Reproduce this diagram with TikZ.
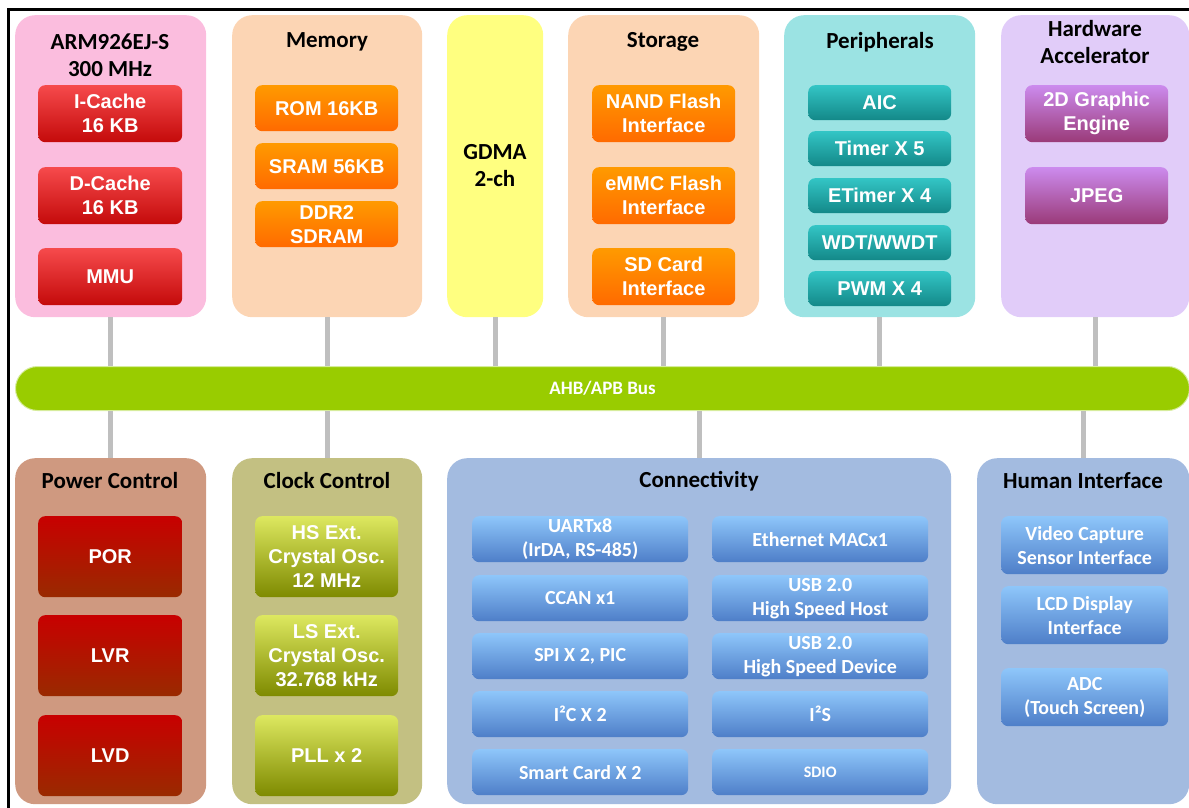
\documentclass[tikz,border=0pt]{standalone}
\usepackage{fontspec}
\setmainfont{Liberation Sans}
\newfontfamily\calfont{Carlito}
\usetikzlibrary{calc}

\definecolor{armpink}{HTML}{FBBDDE}
\definecolor{peach}{HTML}{FCD5B4}
\definecolor{gdmayel}{HTML}{FFFF80}
\definecolor{periteal}{HTML}{9BE3E3}
\definecolor{hwlav}{HTML}{E1CCF9}
\definecolor{busgreen}{HTML}{99CC00}
\definecolor{buslite}{HTML}{D6EC9C}
\definecolor{pwrbrown}{HTML}{CF9980}
\definecolor{clkolive}{HTML}{C3C082}
\definecolor{ifblue}{HTML}{A3BBE0}
\definecolor{linkgray}{HTML}{BFBFBF}
\definecolor{redtop}{HTML}{F64A4C}
\definecolor{redbot}{HTML}{C40A0A}
\definecolor{orgtop}{HTML}{FF9A00}
\definecolor{orgbot}{HTML}{FF6A00}
\definecolor{tealtop}{HTML}{33C5C5}
\definecolor{tealbot}{HTML}{138888}
\definecolor{purtop}{HTML}{CC8BEE}
\definecolor{purbot}{HTML}{9A3A78}
\definecolor{drtop}{HTML}{C80000}
\definecolor{drbot}{HTML}{992A00}
\definecolor{olvtop}{HTML}{DDE860}
\definecolor{olvbot}{HTML}{7E8A00}
\definecolor{bluetop}{HTML}{8EC6FA}
\definecolor{bluebot}{HTML}{4E7EC8}

\begin{document}
\begin{tikzpicture}[x=1pt, y=-1pt,
  grp/.style={rounded corners=20pt, anchor=north west, inner sep=0pt},
  ttl/.style={font=\calfont\bfseries\fontsize{23}{27}\selectfont, align=center, text=black},
  blk/.style={rounded corners=7pt, anchor=north west, inner sep=0pt, align=center, text=white,
    font=\bfseries\fontsize{20}{24}\selectfont},
  cblk/.style={blk, top color=bluetop, bottom color=bluebot, font=\calfont\bfseries\fontsize{20}{24}\selectfont},
  link/.style={draw=linkgray, line width=5pt}]

\useasboundingbox (0,0) rectangle (1189,808);

% upper groups
\node[grp, fill=armpink, minimum width=191pt, minimum height=302pt] (arm) at (15,15) {};
\node[grp, fill=peach, minimum width=190pt, minimum height=302pt] (mem) at (232,15) {};
\node[grp, fill=gdmayel, minimum width=96pt, minimum height=302pt] (gdma) at (447,15) {};
\node[grp, fill=peach, minimum width=191pt, minimum height=302pt] (stor) at (568,15) {};
\node[grp, fill=periteal, minimum width=191pt, minimum height=302pt] (peri) at (784,15) {};
\node[grp, fill=hwlav, minimum width=188pt, minimum height=302pt] (hwacc) at (1001,15) {};

\node[ttl] (armt) at (110,55) {ARM926EJ-S\\300 MHz};
\node[ttl] (memt) at (327,42) {Memory};
\node[ttl] (gdmat) at (495,166) {GDMA\\2-ch};
\node[ttl] (stort) at (663,42) {Storage};
\node[ttl] (perit) at (880,42) {Peripherals};
\node[ttl] (hwacct) at (1095,42) {Hardware\\Accelerator};

\foreach \n/\t/\y in {icache/{I-Cache\\16 KB}/85, dcache/{D-Cache\\16 KB}/167, mmu/MMU/248}
  \node[blk, top color=redtop, bottom color=redbot, minimum width=144pt, minimum height=57pt] (\n) at (38,\y) {\t};
\foreach \n/\t/\y in {rom/ROM 16KB/85, sram/SRAM 56KB/143, ddr/{DDR2\\SDRAM}/201}
  \node[blk, top color=orgtop, bottom color=orgbot, minimum width=143pt, minimum height=46pt] (\n) at (255,\y) {\t};
\foreach \n/\t/\y in {nand/{NAND Flash\\Interface}/85, emmc/{eMMC Flash\\Interface}/167, sdc/{SD Card\\Interface}/248}
  \node[blk, top color=orgtop, bottom color=orgbot, minimum width=143pt, minimum height=57pt] (\n) at (592,\y) {\t};
\foreach \n/\t/\y in {aic/AIC/85, tmr/Timer X 5/131, etmr/ETimer X 4/178, wdt/{WDT/WWDT}/225, pwm/PWM X 4/271}
  \node[blk, top color=tealtop, bottom color=tealbot, minimum width=143pt, minimum height=35pt] (\n) at (808,\y) {\t};
\foreach \n/\t/\y in {gfx/{2D Graphic\\Engine}/85, jpeg/JPEG/167}
  \node[blk, top color=purtop, bottom color=purbot, minimum width=143pt, minimum height=57pt] (\n) at (1025,\y) {\t};

% bus
\node[grp, rounded corners=22pt, fill=busgreen, draw=buslite, line width=1pt, minimum width=1174pt,
  minimum height=44pt, text=white, font=\calfont\bfseries\fontsize{19}{22}\selectfont] (bus) at (15,366) {AHB/APB Bus};

% lower groups
\node[grp, fill=pwrbrown, minimum width=191pt, minimum height=346pt] (pwr) at (15,458) {};
\node[grp, fill=clkolive, minimum width=190pt, minimum height=346pt] (clk) at (232,458) {};
\node[grp, fill=ifblue, minimum width=504pt, minimum height=346pt] (connect) at (447,458) {};
\node[grp, fill=ifblue, minimum width=212pt, minimum height=346pt] (hmi) at (977,458) {};

\node[ttl] (pwrt) at (110,481) {Power Control};
\node[ttl] (clkt) at (327,481) {Clock Control};
\node[ttl] (connectt) at (699,481) {Connectivity};
\node[ttl] (hmit) at (1083,481) {Human Interface};

\foreach \n/\t/\y in {por/POR/516, lvr/LVR/615, lvd/LVD/715}
  \node[blk, top color=drtop, bottom color=drbot, minimum width=144pt, minimum height=81pt] (\n) at (38,\y) {\t};
\foreach \n/\t/\y in {hsosc/{HS Ext.\\Crystal Osc.\\12 MHz}/516, lsosc/{LS Ext.\\Crystal Osc.\\32.768 kHz}/615, pll/PLL x 2/715}
  \node[blk, top color=olvtop, bottom color=olvbot, minimum width=143pt, minimum height=81pt] (\n) at (255,\y) {\t};

\foreach \n/\t/\y in {uart/{UARTx8\\(IrDA, RS-485)}/516, ccan/CCAN x1/575, spi/{SPI X 2, PIC}/633, iic/I²C X 2/691, smc/Smart Card X 2/749}
  \node[cblk, minimum width=216pt, minimum height=46pt] (\n) at (472,\y) {\t};
\foreach \n/\t/\y in {emac/Ethernet MACx1/516, usbh/{USB 2.0\\High Speed Host}/575, usbd/{USB 2.0\\High Speed Device}/633, iis/I²S/691}
  \node[cblk, minimum width=216pt, minimum height=46pt] (\n) at (712,\y) {\t};
\node[cblk, minimum width=216pt, minimum height=46pt, font=\calfont\bfseries\fontsize{16}{20}\selectfont] (sdio) at (712,749) {SDIO};

\foreach \n/\t/\y in {vcap/{Video Capture\\Sensor Interface}/516, lcd/{LCD Display\\Interface}/586, adc/{ADC\\(Touch Screen)}/668}
  \node[cblk, minimum width=167pt, minimum height=58pt] (\n) at (1001,\y) {\t};

% links to the bus
\foreach \g in {arm, mem, gdma, stor, peri, hwacc}
  \draw[link] (\g.south) -- (\g.south |- bus.north);
\foreach \g in {pwr, clk, connect, hmi}
  \draw[link] (\g.north) -- (\g.north |- bus.south);

% frame
\draw[line width=3pt] (8,808) -- (8,9.5) -- (1189,9.5);

\end{tikzpicture}
\end{document}
